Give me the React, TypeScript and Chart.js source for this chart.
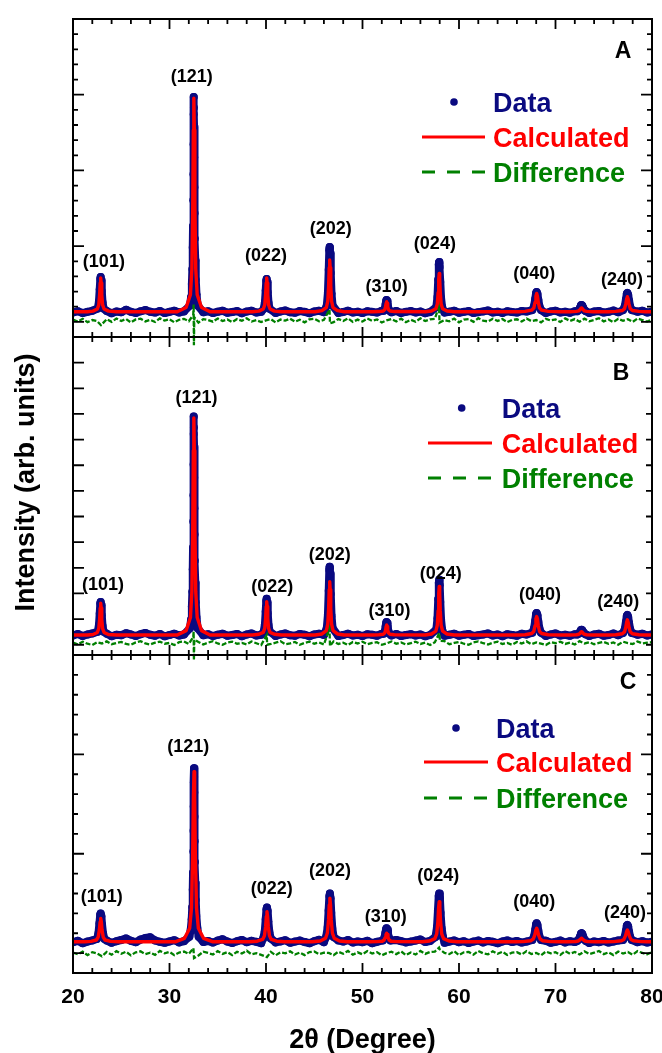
import React, { useEffect, useRef } from "react";
import { Chart, registerables } from "chart.js";

Chart.register(...registerables);

// ---------- x grid (2θ, degrees) ----------
const twoTheta = [
  20, 20.5, 21, 21.5, 22, 22.5, 23, 23.5, 24, 24.5,
  25, 25.5, 26, 26.5, 27, 27.5, 28, 28.5, 29, 29.5,
  30, 30.5, 31, 31.5, 32, 32.5, 33, 33.5, 34, 34.5,
  35, 35.5, 36, 36.5, 37, 37.5, 38, 38.5, 39, 39.5,
  40, 40.5, 41, 41.5, 42, 42.5, 43, 43.5, 44, 44.5,
  45, 45.5, 46, 46.5, 47, 47.5, 48, 48.5, 49, 49.5,
  50, 50.5, 51, 51.5, 52, 52.5, 53, 53.5, 54, 54.5,
  55, 55.5, 56, 56.5, 57, 57.5, 58, 58.5, 59, 59.5,
  60, 60.5, 61, 61.5, 62, 62.5, 63, 63.5, 64, 64.5,
  65, 65.5, 66, 66.5, 67, 67.5, 68, 68.5, 69, 69.5,
  70, 70.5, 71, 71.5, 72, 72.5, 73, 73.5, 74, 74.5,
  75, 75.5, 76, 76.5, 77, 77.5, 78, 78.5, 79, 79.5, 80,
];

// ---------- Panel A ----------
const obsBgA = [
  0.62, 0.70, 0.58, 0.66, 0.73, 0.60, 0.64, 0.71, 0.57, 0.68,
  0.63, 0.80, 0.66, 0.59, 0.70, 0.78, 0.67, 0.61, 0.72, 0.58,
  0.66, 0.74, 0.62, 0.69, 0.72, 0.65, 0.75, 0.63, 0.70, 0.58,
  0.67, 0.73, 0.60, 0.65, 0.71, 0.57, 0.68, 0.74, 0.61, 0.66,
  0.70, 0.62, 0.58, 0.69, 0.75, 0.63, 0.60, 0.71, 0.66, 0.57,
  0.68, 0.73, 0.64, 0.70, 0.72, 0.59, 0.65, 0.74, 0.62, 0.67,
  0.58, 0.70, 0.66, 0.61, 0.73, 0.68, 0.63, 0.72, 0.59, 0.66,
  0.71, 0.62, 0.68, 0.57, 0.65, 0.74, 0.70, 0.61, 0.67, 0.73,
  0.60, 0.66, 0.71, 0.58, 0.64, 0.69, 0.75, 0.62, 0.67, 0.59,
  0.70, 0.65, 0.61, 0.72, 0.68, 0.63, 0.71, 0.66, 0.58, 0.69,
  0.74, 0.62, 0.67, 0.60, 0.70, 0.73, 0.64, 0.59, 0.68, 0.72,
  0.61, 0.66, 0.75, 0.63, 0.69, 0.71, 0.58, 0.67, 0.73, 0.62, 0.68,
];
const obsPeaksA = [
  [22.57, 0.88], [22.69, 1.34], [22.77, 2.15], [22.83, 2.84], [22.87, 2.96], [22.92, 2.73], [22.98, 2.04], [23.06, 1.30], [23.17, 0.88],
  [32.12, 1.08], [32.24, 1.64], [32.32, 2.50], [32.37, 3.49], [32.41, 4.91], [32.44, 6.33], [32.46, 8.03], [32.48, 9.74], [32.495, 11.73], [32.51, 13.71], [32.52, 14.85],
  [32.532, 14.14], [32.545, 12.86], [32.56, 10.87], [32.58, 8.89], [32.60, 7.18], [32.63, 5.48], [32.67, 4.06], [32.72, 2.78], [32.80, 1.79], [32.92, 1.08],
  [39.77, 0.87], [39.89, 1.30], [39.97, 2.07], [40.03, 2.72], [40.07, 2.83], [40.12, 2.61], [40.18, 1.96], [40.26, 1.26], [40.37, 0.87],
  [46.30, 1.08], [46.42, 1.94], [46.50, 3.44], [46.56, 4.73], [46.58, 4.85], [46.60, 4.94], [46.62, 4.90], [46.65, 4.51], [46.71, 3.22], [46.79, 1.85], [46.90, 1.08],
  [52.20, 0.73], [52.32, 0.89], [52.40, 1.16], [52.46, 1.40], [52.50, 1.44], [52.55, 1.36], [52.61, 1.12], [52.69, 0.87], [52.80, 0.73],
  [57.65, 0.98], [57.77, 1.64], [57.85, 2.80], [57.91, 3.79], [57.93, 3.90], [57.95, 3.95], [57.97, 3.85], [58.00, 3.62], [58.06, 2.63], [58.14, 1.57], [58.25, 0.98],
  [67.60, 0.78], [67.78, 1.05], [67.90, 1.51], [67.99, 1.90], [68.05, 1.97], [68.13, 1.84], [68.22, 1.44], [68.34, 1.02], [68.50, 0.78],
  [72.25, 0.70], [72.43, 0.79], [72.55, 0.95], [72.64, 1.09], [72.70, 1.11], [72.78, 1.06], [72.87, 0.93], [72.99, 0.78], [73.15, 0.70],
  [77.00, 0.78], [77.18, 1.03], [77.30, 1.47], [77.39, 1.85], [77.45, 1.91], [77.53, 1.78], [77.62, 1.41], [77.74, 1.00], [77.90, 0.78],
];
const calcA = [
  [20, 0.67], [21.5, 0.67],
  [22.07, 0.71], [22.52, 0.85], [22.67, 1.12], [22.76, 1.79], [22.82, 2.57], [22.87, 2.90], [22.92, 2.57], [22.98, 1.79], [23.07, 1.12], [23.22, 0.85], [23.67, 0.71],
  [24.5, 0.67], [30.8, 0.67],
  [31.72, 0.95], [32.17, 1.80], [32.32, 3.49], [32.41, 7.72], [32.47, 12.66], [32.52, 14.77], [32.57, 12.66], [32.63, 7.72], [32.72, 3.49], [32.87, 1.80], [33.32, 0.95],
  [34.2, 0.67], [38.6, 0.67],
  [39.27, 0.71], [39.72, 0.85], [39.87, 1.12], [39.96, 1.79], [40.02, 2.57], [40.07, 2.90], [40.12, 2.57], [40.18, 1.79], [40.27, 1.12], [40.42, 0.85], [40.87, 0.71],
  [41.6, 0.67], [45.1, 0.67],
  [45.80, 0.74], [46.25, 0.94], [46.40, 1.35], [46.49, 2.38], [46.55, 3.57], [46.60, 4.08], [46.65, 3.57], [46.71, 2.38], [46.80, 1.35], [46.95, 0.94], [47.40, 0.74],
  [48.1, 0.67], [51.1, 0.67],
  [51.70, 0.68], [52.15, 0.72], [52.30, 0.80], [52.39, 1.00], [52.45, 1.23], [52.50, 1.33], [52.55, 1.23], [52.61, 1.00], [52.70, 0.80], [52.85, 0.72], [53.30, 0.68],
  [56.5, 0.67],
  [57.15, 0.72], [57.60, 0.87], [57.75, 1.18], [57.84, 1.94], [57.90, 2.82], [57.95, 3.20], [58.00, 2.82], [58.06, 1.94], [58.15, 1.18], [58.30, 0.87], [58.75, 0.72],
  [59.5, 0.67], [66.2, 0.67],
  [66.85, 0.69], [67.53, 0.77], [67.75, 0.91], [67.88, 1.28], [67.97, 1.70], [68.05, 1.88], [68.13, 1.70], [68.22, 1.28], [68.35, 0.91], [68.57, 0.77], [69.25, 0.69],
  [70.5, 0.67],
  [71.50, 0.67], [72.18, 0.69], [72.40, 0.72], [72.53, 0.80], [72.62, 0.88], [72.70, 0.92], [72.78, 0.88], [72.87, 0.80], [73.00, 0.72], [73.22, 0.69], [73.90, 0.67],
  [75.5, 0.67],
  [76.25, 0.69], [76.93, 0.75], [77.15, 0.87], [77.28, 1.17], [77.37, 1.51], [77.45, 1.66], [77.53, 1.51], [77.62, 1.17], [77.75, 0.87], [77.97, 0.75], [78.65, 0.69],
  [79.3, 0.67], [80, 0.67],
];
const diffA = [
  0.15, 0.02, 0.20, -0.02, 0.12, 0.05, -0.15, 0.18, 0.00, 0.22,
  0.06, 0.19, -0.04, 0.16, 0.21, 0.03, 0.13, -0.01, 0.23, 0.08,
  0.17, -0.03, 0.14, 0.20, 0.04, 0.10, -0.05, 0.18, 0.12, 0.01,
  0.22, 0.05, 0.16, -0.02, 0.19, 0.07, 0.24, 0.02, 0.11, -0.01,
  0.10, 0.18, -0.04, 0.15, 0.08, 0.21, 0.01, 0.14, -0.03, 0.17,
  0.20, 0.04, 0.13, 0.12, -0.02, 0.19, 0.06, 0.23, 0.00, 0.15,
  0.02, 0.22, 0.07, 0.16, -0.04, 0.10, 0.19, 0.03, 0.21, -0.02,
  0.14, 0.01, 0.23, 0.05, 0.17, 0.20, -0.01, 0.12, 0.04, 0.22,
  -0.03, 0.15, 0.18, 0.00, 0.24, 0.08, 0.03, 0.21, 0.06, 0.19,
  -0.02, 0.13, 0.17, 0.02, 0.22, 0.05, 0.12, -0.03, 0.20, 0.09,
  0.16, -0.01, 0.23, 0.06, 0.18, 0.01, 0.21, 0.04, 0.13, 0.24,
  0.03, 0.15, -0.02, 0.20, 0.07, 0.18, 0.00, 0.22, 0.12, 0.02, 0.16,
];
const diffSpikesA = [
  [22.9, -0.22], [32.46, 0.45], [32.5, 1.15], [32.53, -1.55], [32.57, 0.3],
  [46.58, 0.8], [46.63, -0.1], [57.93, 1.05], [57.98, -0.05],
];

// ---------- Panel B ----------
const obsBgB = [
  -0.64, -0.58, -0.66, -0.60, -0.56, -0.65, -0.62, -0.57, -0.67, -0.61,
  -0.63, -0.55, -0.60, -0.66, -0.59, -0.54, -0.61, -0.65, -0.58, -0.67,
  -0.62, -0.57, -0.64, -0.60, -0.56, -0.62, -0.55, -0.63, -0.59, -0.66,
  -0.61, -0.57, -0.65, -0.62, -0.58, -0.67, -0.60, -0.56, -0.64, -0.61,
  -0.58, -0.63, -0.66, -0.60, -0.56, -0.63, -0.65, -0.58, -0.61, -0.67,
  -0.60, -0.57, -0.62, -0.59, -0.56, -0.66, -0.62, -0.57, -0.64, -0.61,
  -0.66, -0.59, -0.61, -0.65, -0.57, -0.60, -0.64, -0.58, -0.66, -0.62,
  -0.59, -0.64, -0.60, -0.67, -0.62, -0.56, -0.59, -0.65, -0.61, -0.57,
  -0.65, -0.61, -0.58, -0.66, -0.63, -0.60, -0.56, -0.64, -0.60, -0.67,
  -0.59, -0.62, -0.65, -0.57, -0.60, -0.63, -0.58, -0.61, -0.66, -0.60,
  -0.56, -0.64, -0.61, -0.65, -0.59, -0.57, -0.62, -0.66, -0.60, -0.57,
  -0.65, -0.62, -0.56, -0.63, -0.59, -0.58, -0.66, -0.61, -0.57, -0.64, -0.60,
];
const obsPeaksB = [
  [22.57, -0.49], [22.69, -0.23], [22.77, 0.22], [22.83, 0.61], [22.87, 0.67], [22.92, 0.54], [22.98, 0.15], [23.06, -0.26], [23.17, -0.49],
  [32.12, -0.36], [32.24, -0.02], [32.32, 0.49], [32.37, 1.08], [32.41, 1.94], [32.44, 2.79], [32.46, 3.81], [32.48, 4.83], [32.495, 6.03], [32.51, 7.22], [32.52, 7.90],
  [32.532, 7.47], [32.545, 6.71], [32.56, 5.51], [32.58, 4.32], [32.60, 3.30], [32.63, 2.28], [32.67, 1.42], [32.72, 0.66], [32.80, 0.06], [32.92, -0.36],
  [39.77, -0.48], [39.89, -0.20], [39.97, 0.30], [40.03, 0.72], [40.07, 0.79], [40.12, 0.65], [40.18, 0.23], [40.26, -0.23], [40.37, -0.48],
  [46.30, -0.35], [46.42, 0.18], [46.50, 1.11], [46.56, 1.91], [46.58, 2.00], [46.60, 2.04], [46.62, 1.98], [46.65, 1.77], [46.71, 0.98], [46.79, 0.13], [46.90, -0.35],
  [52.20, -0.57], [52.32, -0.47], [52.40, -0.29], [52.46, -0.14], [52.50, -0.11], [52.55, -0.16], [52.61, -0.31], [52.69, -0.48], [52.80, -0.57],
  [57.65, -0.41], [57.77, 0.03], [57.85, 0.78], [57.91, 1.42], [57.95, 1.53], [58.00, 1.32], [58.06, 0.67], [58.14, -0.02], [58.25, -0.41],
  [67.60, -0.53], [67.78, -0.36], [67.90, -0.06], [67.99, 0.20], [68.05, 0.24], [68.13, 0.15], [68.22, -0.10], [68.34, -0.38], [68.50, -0.53],
  [72.25, -0.60], [72.43, -0.56], [72.55, -0.49], [72.64, -0.43], [72.70, -0.42], [72.78, -0.44], [72.87, -0.50], [72.99, -0.56], [73.15, -0.60],
  [77.00, -0.54], [77.18, -0.39], [77.30, -0.11], [77.39, 0.12], [77.45, 0.16], [77.53, 0.08], [77.62, -0.15], [77.74, -0.40], [77.90, -0.54],
];
const calcB = [
  [20, -0.62], [21.5, -0.62],
  [22.07, -0.60], [22.52, -0.52], [22.67, -0.37], [22.76, 0.00], [22.82, 0.43], [22.87, 0.62], [22.92, 0.43], [22.98, 0.00], [23.07, -0.37], [23.22, -0.52], [23.67, -0.60],
  [24.5, -0.62], [30.8, -0.62],
  [31.72, -0.45], [32.17, 0.06], [32.32, 1.07], [32.41, 3.61], [32.47, 6.57], [32.52, 7.84], [32.57, 6.57], [32.63, 3.61], [32.72, 1.07], [32.87, 0.06], [33.32, -0.45],
  [34.2, -0.62], [38.6, -0.62],
  [39.27, -0.59], [39.72, -0.52], [39.87, -0.36], [39.96, 0.03], [40.02, 0.49], [40.07, 0.68], [40.12, 0.49], [40.18, 0.03], [40.27, -0.36], [40.42, -0.52], [40.87, -0.59],
  [41.6, -0.62], [45.1, -0.62],
  [45.80, -0.58], [46.25, -0.45], [46.40, -0.20], [46.49, 0.42], [46.55, 1.15], [46.60, 1.46], [46.65, 1.15], [46.71, 0.42], [46.80, -0.20], [46.95, -0.45], [47.40, -0.58],
  [48.1, -0.62], [51.1, -0.62],
  [51.70, -0.61], [52.15, -0.59], [52.30, -0.54], [52.39, -0.43], [52.45, -0.29], [52.50, -0.23], [52.55, -0.29], [52.61, -0.43], [52.70, -0.54], [52.85, -0.59], [53.30, -0.61],
  [56.5, -0.62],
  [57.15, -0.58], [57.60, -0.47], [57.75, -0.24], [57.84, 0.33], [57.90, 0.99], [57.95, 1.27], [58.00, 0.99], [58.06, 0.33], [58.15, -0.24], [58.30, -0.47], [58.75, -0.58],
  [59.5, -0.62], [66.2, -0.62],
  [66.85, -0.61], [67.53, -0.56], [67.75, -0.48], [67.88, -0.26], [67.97, 0.01], [68.05, 0.10], [68.13, 0.01], [68.22, -0.26], [68.35, -0.48], [68.57, -0.56], [69.25, -0.61],
  [70.5, -0.62],
  [71.50, -0.62], [72.18, -0.61], [72.40, -0.59], [72.53, -0.56], [72.62, -0.51], [72.70, -0.49], [72.78, -0.51], [72.87, -0.56], [73.00, -0.59], [73.22, -0.61], [73.90, -0.62],
  [75.5, -0.62],
  [76.25, -0.61], [76.93, -0.57], [77.15, -0.50], [77.28, -0.33], [77.37, -0.12], [77.45, -0.03], [77.53, -0.12], [77.62, -0.33], [77.75, -0.50], [77.97, -0.57], [78.65, -0.61],
  [79.3, -0.62], [80, -0.62],
];
const diffB = [
  -0.92, -0.99, -0.88, -0.96, -1.01, -0.90, -0.95, -0.87, -0.98, -0.93,
  -0.89, -0.97, -1.00, -0.91, -0.86, -0.95, -0.99, -0.92, -0.88, -0.96,
  -0.93, -1.01, -0.90, -0.87, -0.97, -0.94, -0.89, -0.99, -0.92, -0.86,
  -0.95, -1.00, -0.91, -0.88, -0.96, -0.93, -0.99, -0.87, -0.94, -1.01,
  -0.90, -0.97, -0.92, -0.86, -0.98, -0.95, -0.89, -1.00, -0.93, -0.88,
  -0.96, -0.91, -0.99, -0.94, -0.87, -0.97, -0.92, -1.01, -0.89, -0.95,
  -0.88, -0.98, -0.93, -0.90, -1.00, -0.95, -0.87, -0.96, -0.91, -0.99,
  -0.94, -0.88, -0.97, -0.92, -1.01, -0.90, -0.95, -0.86, -0.98, -0.93,
  -0.89, -0.96, -1.00, -0.91, -0.87, -0.94, -0.99, -0.92, -0.88, -0.97,
  -0.93, -1.00, -0.89, -0.95, -0.87, -0.98, -0.91, -0.96, -1.01, -0.90,
  -0.94, -0.88, -0.97, -0.92, -0.99, -0.86, -0.95, -0.90, -0.98, -0.93,
  -0.89, -0.96, -0.91, -1.00, -0.88, -0.94, -0.97, -0.87, -0.95, -0.92, -0.90,
];
const diffSpikesB = [
  [32.46, -0.7], [32.5, -0.49], [32.53, -1.6], [32.57, -0.8],
  [40.08, -0.62], [40.12, -1.0], [46.58, -0.35], [46.63, -1.05],
  [57.88, -0.6], [57.93, -0.54], [57.98, -0.6], [58.02, -0.85],
];

// ---------- Panel C ----------
const obsBgC = [
  0.55, 0.62, 0.50, 0.58, 0.64, 0.53, 0.57, 0.63, 0.52, 0.60,
  0.66, 0.74, 0.62, 0.55, 0.68, 0.76, 0.80, 0.64, 0.57, 0.52,
  0.59, 0.65, 0.54, 0.60, 0.66, 0.58, 0.68, 0.56, 0.61, 0.53,
  0.63, 0.70, 0.58, 0.51, 0.60, 0.66, 0.55, 0.62, 0.57, 0.50,
  0.61, 0.66, 0.54, 0.59, 0.65, 0.52, 0.58, 0.63, 0.56, 0.50,
  0.60, 0.67, 0.55, 0.62, 0.70, 0.64, 0.58, 0.66, 0.53, 0.59,
  0.55, 0.62, 0.50, 0.57, 0.64, 0.59, 0.53, 0.66, 0.60, 0.54,
  0.58, 0.63, 0.69, 0.56, 0.61, 0.67, 0.62, 0.52, 0.58, 0.64,
  0.55, 0.60, 0.51, 0.58, 0.63, 0.54, 0.61, 0.57, 0.50, 0.59,
  0.64, 0.56, 0.61, 0.53, 0.58, 0.65, 0.60, 0.55, 0.62, 0.52,
  0.57, 0.63, 0.54, 0.60, 0.56, 0.62, 0.58, 0.51, 0.59, 0.55,
  0.61, 0.53, 0.58, 0.64, 0.56, 0.60, 0.62, 0.55, 0.60, 0.53, 0.57,
];
const obsPeaksC = [
  [22.48, 0.71], [22.64, 1.00], [22.74, 1.50], [22.82, 1.93], [22.87, 2.00], [22.94, 1.86], [23.01, 1.43], [23.12, 0.97], [23.26, 0.71],
  [32.06, 0.83], [32.20, 1.18], [32.30, 1.70], [32.36, 2.32], [32.41, 3.19], [32.44, 4.06], [32.47, 5.11], [32.49, 6.16], [32.51, 7.38], [32.53, 8.60], [32.54, 9.30],
  [32.55, 8.86], [32.57, 8.08], [32.59, 6.86], [32.61, 5.63], [32.64, 4.59], [32.67, 3.54], [32.72, 2.67], [32.78, 1.88], [32.88, 1.27], [33.02, 0.83],
  [39.71, 0.74], [39.87, 1.09], [39.97, 1.70], [40.05, 2.21], [40.10, 2.30], [40.17, 2.13], [40.24, 1.61], [40.35, 1.05], [40.49, 0.74],
  [46.23, 0.81], [46.39, 1.30], [46.49, 2.15], [46.57, 2.88], [46.62, 3.00], [46.69, 2.76], [46.76, 2.03], [46.87, 1.25], [47.01, 0.81],
  [52.11, 0.64], [52.27, 0.77], [52.37, 1.01], [52.45, 1.22], [52.50, 1.25], [52.57, 1.18], [52.64, 0.98], [52.75, 0.76], [52.89, 0.64],
  [57.56, 0.81], [57.72, 1.30], [57.82, 2.15], [57.90, 2.88], [57.95, 3.00], [58.02, 2.76], [58.09, 2.03], [58.20, 1.25], [58.34, 0.81],
  [67.60, 0.66], [67.78, 0.85], [67.90, 1.17], [67.99, 1.45], [68.05, 1.50], [68.13, 1.41], [68.22, 1.13], [68.34, 0.83], [68.50, 0.66],
  [72.25, 0.61], [72.43, 0.70], [72.55, 0.85], [72.64, 0.98], [72.70, 1.00], [72.78, 0.96], [72.87, 0.83], [72.99, 0.69], [73.15, 0.61],
  [77.00, 0.66], [77.18, 0.83], [77.30, 1.12], [77.39, 1.38], [77.45, 1.42], [77.53, 1.34], [77.62, 1.08], [77.74, 0.81], [77.90, 0.66],
];
const calcC = [
  [20, 0.57], [21.2, 0.57],
  [21.87, 0.59], [22.42, 0.66], [22.61, 0.81], [22.73, 1.16], [22.81, 1.57], [22.87, 1.75], [22.94, 1.57], [23.01, 1.16], [23.13, 0.81], [23.32, 0.66], [23.87, 0.59],
  [24.7, 0.57], [30.6, 0.57],
  [31.54, 0.74], [32.09, 1.25], [32.28, 2.28], [32.40, 4.85], [32.475, 7.85], [32.54, 9.13], [32.605, 7.85], [32.68, 4.85], [32.80, 2.28], [32.99, 1.25], [33.54, 0.74],
  [34.5, 0.57], [38.3, 0.57],
  [39.10, 0.60], [39.65, 0.69], [39.84, 0.87], [39.96, 1.33], [40.035, 1.85], [40.10, 2.08], [40.165, 1.85], [40.24, 1.33], [40.36, 0.87], [40.55, 0.69], [41.10, 0.60],
  [41.9, 0.57], [44.8, 0.57],
  [45.62, 0.61], [46.17, 0.75], [46.36, 1.01], [46.48, 1.67], [46.555, 2.43], [46.62, 2.76], [46.685, 2.43], [46.76, 1.67], [46.88, 1.01], [47.07, 0.75], [47.62, 0.61],
  [48.4, 0.57], [50.8, 0.57],
  [51.50, 0.58], [52.05, 0.60], [52.24, 0.66], [52.36, 0.79], [52.435, 0.94], [52.50, 1.00], [52.565, 0.94], [52.64, 0.79], [52.76, 0.66], [52.95, 0.60], [53.50, 0.58],
  [56.2, 0.57],
  [56.95, 0.61], [57.50, 0.73], [57.69, 0.97], [57.81, 1.58], [57.885, 2.29], [57.95, 2.59], [58.015, 2.29], [58.09, 1.58], [58.21, 0.97], [58.40, 0.73], [58.95, 0.61],
  [59.8, 0.57], [65.9, 0.57],
  [66.65, 0.58], [67.42, 0.62], [67.69, 0.71], [67.85, 0.91], [67.96, 1.15], [68.05, 1.25], [68.14, 1.15], [68.25, 0.91], [68.41, 0.71], [68.68, 0.62], [69.45, 0.58],
  [70.6, 0.57],
  [71.30, 0.57], [72.07, 0.58], [72.34, 0.61], [72.50, 0.66], [72.61, 0.72], [72.70, 0.75], [72.79, 0.72], [72.90, 0.66], [73.06, 0.61], [73.33, 0.58], [74.10, 0.57],
  [75.3, 0.57],
  [76.05, 0.58], [76.82, 0.62], [77.09, 0.69], [77.25, 0.87], [77.36, 1.07], [77.45, 1.16], [77.54, 1.07], [77.65, 0.87], [77.81, 0.69], [78.08, 0.62], [78.85, 0.58],
  [79.5, 0.57], [80, 0.57],
];
const diffC = [
  0.03, -0.06, 0.08, -0.10, 0.05, -0.02, -0.16, 0.06, -0.08, 0.10,
  -0.03, 0.07, -0.11, 0.04, 0.09, -0.05, 0.02, -0.09, 0.11, -0.01,
  0.06, -0.10, 0.03, 0.08, -0.04, 0.01, -0.12, 0.07, 0.01, -0.07,
  0.10, -0.04, 0.05, -0.10, 0.07, -0.02, 0.12, -0.06, 0.00, -0.09,
  0.01, 0.06, -0.11, 0.04, -0.01, 0.09, -0.07, 0.03, -0.10, 0.05,
  0.08, -0.05, 0.02, 0.01, -0.10, 0.07, -0.03, 0.11, -0.08, 0.04,
  -0.06, 0.10, -0.02, 0.05, -0.11, 0.00, 0.07, -0.05, 0.09, -0.10,
  0.03, -0.07, 0.11, -0.04, 0.06, 0.08, -0.09, 0.01, -0.05, 0.10,
  -0.10, 0.04, 0.06, -0.08, 0.11, -0.01, -0.06, 0.09, -0.03, 0.07,
  -0.09, 0.02, 0.05, -0.07, 0.10, -0.04, 0.01, -0.11, 0.08, -0.01,
  0.05, -0.09, 0.10, -0.03, 0.06, -0.07, 0.09, -0.05, 0.02, 0.11,
  -0.05, 0.04, -0.10, 0.08, -0.02, 0.06, -0.08, 0.10, 0.01, -0.06, 0.05,
];
const diffSpikesC = [
  [32.48, 0.25], [32.54, -0.25], [40.1, -0.2], [57.93, 0.28], [57.98, 0.2],
];

// ---------- panel y ranges and ticks ----------
const yRangeA = [-1, 20];
const yRangeB = [-1.4, 11];
const yRangeC = [-1, 15];
const yTicksA = [0, 1, 2, 3, 4, 5, 6, 7, 8, 9, 10, 11, 12, 13, 14, 15, 16, 17, 18, 19];
const yMajorA = [0, 5, 10, 15];
const yTicksB = [-1, 0, 1, 2, 3, 4, 5, 6, 7, 8, 9, 10];
const yMajorB = [-1, 0, 1, 2, 3, 4, 5, 6, 7, 8, 9, 10];
const yTicksC = [0, 1, 2, 3, 4, 5, 6, 7, 8, 9, 10, 11, 12, 13, 14];
const yMajorC = [0, 5, 10];
const xTickLabels = [20, 30, 40, 50, 60, 70, 80];
const xMinorTicks = [22, 24, 26, 28, 32, 34, 36, 38, 42, 44, 46, 48, 52, 54, 56, 58, 62, 64, 66, 68, 72, 74, 76, 78];

// ---------- peak labels ----------
const hklLabels = ["(101)", "(121)", "(022)", "(202)", "(310)", "(024)", "(040)", "(240)"];
const labelXA = [23.2, 32.3, 40.0, 46.7, 52.5, 57.5, 67.8, 76.9];
const labelYA = [4.05, 16.24, 4.42, 6.2, 2.37, 5.21, 3.23, 2.83];
const labelXB = [23.1, 32.8, 40.65, 46.6, 52.8, 58.1, 68.4, 76.5];
const labelYB = [1.4, 8.69, 1.3, 2.57, 0.36, 1.83, 0.98, 0.72];
const labelXC = [22.97, 31.95, 40.6, 46.63, 52.4, 57.86, 67.8, 77.2];
const labelYC = [2.92, 10.44, 3.31, 4.18, 1.87, 3.97, 2.62, 2.08];

const legendTexts = ["Data", "Calculated", "Difference"];
const panelLetters = ["A", "B", "C"];
const xTitle = "2θ (Degree)";
const yTitle = "Intensity (arb. units)";

// ---------- styles ----------
const NAVY = "#0a0a80";
const RED = "#ff0000";
const GREEN = "#008000";
const FONT = '"Liberation Sans", Arial, Helvetica, sans-serif';

const panelStyle = [
  { axis: "yA", range: yRangeA, ticks: yTicksA, majors: yMajorA, lMaj: 11, lMin: 5, rMaj: 11, rMin: 5,
    lx: labelXA, ly: labelYA, letterX: 623, letterDy: 31, dotX: 454, lineX0: 422, lineX1: 485, textX: 493, rowDy: [83, 118, 153] },
  { axis: "yB", range: yRangeB, ticks: yTicksB, majors: yMajorB, lMaj: 11, lMin: 11, rMaj: 6, rMin: 6,
    lx: labelXB, ly: labelYB, letterX: 621, letterDy: 35, dotX: 461.7, lineX0: 428, lineX1: 492, textX: 501.7, rowDy: [71, 106, 141] },
  { axis: "yC", range: yRangeC, ticks: yTicksC, majors: yMajorC, lMaj: 11, lMin: 5, rMaj: 11, rMin: 5,
    lx: labelXC, ly: labelYC, letterX: 628, letterDy: 26, dotX: 456, lineX0: 424, lineX1: 488, textX: 496, rowDy: [73, 107, 143] },
];

function toPoints(pairs: number[][]) {
  return pairs.map((p) => ({ x: p[0], y: p[1] }));
}
// observed pattern: background grid + peak points, ordered by angle
function obsPoints(bg: number[], peaks: number[][]) {
  const pts = twoTheta
    .map((x, i) => ({ x, y: bg[i] }))
    .filter((p) => !peaks.some((s) => Math.abs(s[0] - p.x) < 0.15));
  return pts.concat(toPoints(peaks)).sort((a, b) => a.x - b.x);
}
function diffPoints(vals: number[], spikes: number[][]) {
  const pts = twoTheta
    .map((x, i) => ({ x, y: vals[i] }))
    .filter((p) => !spikes.some((s) => Math.abs(s[0] - p.x) < 0.12));
  return pts.concat(toPoints(spikes)).sort((a, b) => a.x - b.x);
}

function capBaseline(centerY: number, size: number) {
  return centerY + 0.358 * size;
}

const decorPlugin = {
  id: "decor",
  afterDatasetsDraw(chart: any) {
    const ctx = chart.ctx as CanvasRenderingContext2D;
    const xs = chart.scales.x;
    const area = chart.chartArea;
    ctx.save();
    panelStyle.forEach((p, pi) => {
      const ys = chart.scales[p.axis];
      const top = ys.getPixelForValue(p.range[1]);
      const bot = ys.getPixelForValue(p.range[0]);
      ctx.strokeStyle = "#000";
      ctx.lineWidth = 2;
      ctx.setLineDash([]);
      ctx.strokeRect(area.left, top, area.right - area.left, bot - top);
      ctx.lineWidth = 1.8;
      const drawX = (v: number, len: number) => {
        const px = xs.getPixelForValue(v);
        ctx.beginPath();
        ctx.moveTo(px, top);
        ctx.lineTo(px, top + len);
        ctx.moveTo(px, bot);
        ctx.lineTo(px, bot - len);
        ctx.stroke();
      };
      xTickLabels.forEach((v) => drawX(v, 10));
      xMinorTicks.forEach((v) => drawX(v, 5));
      p.ticks.forEach((v) => {
        const py = ys.getPixelForValue(v);
        const major = p.majors.includes(v);
        const l = major ? p.lMaj : p.lMin;
        const r = major ? p.rMaj : p.rMin;
        ctx.beginPath();
        ctx.moveTo(area.left, py);
        ctx.lineTo(area.left + l, py);
        ctx.moveTo(area.right, py);
        ctx.lineTo(area.right - r, py);
        ctx.stroke();
      });
      ctx.fillStyle = "#000";
      ctx.font = `bold 18px ${FONT}`;
      ctx.textAlign = "center";
      ctx.textBaseline = "alphabetic";
      hklLabels.forEach((t, i) => {
        const px = xs.getPixelForValue(p.lx[i]);
        const py = ys.getPixelForValue(p.ly[i]);
        ctx.fillText(t, px, capBaseline(py, 18));
      });
      ctx.font = `bold 23px ${FONT}`;
      ctx.fillText(panelLetters[pi], p.letterX, capBaseline(top + p.letterDy, 23));
      const r0 = top + p.rowDy[0];
      const r1 = top + p.rowDy[1];
      const r2 = top + p.rowDy[2];
      ctx.fillStyle = NAVY;
      ctx.beginPath();
      ctx.arc(p.dotX, r0, 3.8, 0, Math.PI * 2);
      ctx.fill();
      ctx.strokeStyle = RED;
      ctx.lineWidth = 2.8;
      ctx.beginPath();
      ctx.moveTo(p.lineX0, r1);
      ctx.lineTo(p.lineX1, r1);
      ctx.stroke();
      ctx.strokeStyle = GREEN;
      ctx.lineWidth = 2.8;
      ctx.setLineDash([13, 12]);
      ctx.beginPath();
      ctx.moveTo(p.lineX0, r2);
      ctx.lineTo(p.lineX1, r2);
      ctx.stroke();
      ctx.setLineDash([]);
      ctx.font = `bold 27px ${FONT}`;
      ctx.textAlign = "left";
      ctx.fillStyle = NAVY;
      ctx.fillText(legendTexts[0], p.textX, capBaseline(r0, 27));
      ctx.fillStyle = RED;
      ctx.fillText(legendTexts[1], p.textX, capBaseline(r1, 27));
      ctx.fillStyle = GREEN;
      ctx.fillText(legendTexts[2], p.textX, capBaseline(r2, 27));
    });
    ctx.fillStyle = "#000";
    ctx.font = `bold 21px ${FONT}`;
    ctx.textAlign = "center";
    ctx.textBaseline = "alphabetic";
    xTickLabels.forEach((v) => {
      ctx.fillText(String(v), xs.getPixelForValue(v), capBaseline(area.bottom + 22, 21));
    });
    ctx.font = `bold 27px ${FONT}`;
    ctx.fillText(xTitle, (area.left + area.right) / 2, 1048);
    ctx.save();
    ctx.translate(33.5, 482.5);
    ctx.rotate(-Math.PI / 2);
    ctx.fillText(yTitle, 0, 0);
    ctx.restore();
    ctx.restore();
  },
};

function axisRange(range: number[], slot: number) {
  const span = range[1] - range[0];
  return { min: range[0] - (2 - slot) * span, max: range[1] + slot * span };
}

export default function App() {
  const ref = useRef<HTMLCanvasElement | null>(null);
  useEffect(() => {
    if (!ref.current) return;
    const mk = (axis: string, obs: any[], calc: any[], diff: any[]) => [
      { label: "Calculated", data: calc, yAxisID: axis, showLine: true, borderColor: RED, borderWidth: 3.4,
        pointRadius: 0, order: 0, tension: 0, borderJoinStyle: "round" as const },
      { label: "Difference", data: diff, yAxisID: axis, showLine: true, borderColor: GREEN, borderWidth: 2.3,
        borderDash: [5, 2], pointRadius: 0, order: 1, tension: 0 },
      { label: "Data", data: obs, yAxisID: axis, showLine: true, borderColor: NAVY, borderWidth: 8,
        borderJoinStyle: "round" as const, borderCapStyle: "round" as const, tension: 0,
        pointRadius: 4, pointBorderWidth: 0, pointBackgroundColor: NAVY, pointBorderColor: NAVY, order: 2 },
    ];
    const rA = axisRange(yRangeA, 0);
    const rB = axisRange(yRangeB, 1);
    const rC = axisRange(yRangeC, 2);
    const chart = new Chart(ref.current, {
      type: "scatter",
      data: {
        datasets: [
          ...mk("yA", obsPoints(obsBgA, obsPeaksA), toPoints(calcA), diffPoints(diffA, diffSpikesA)),
          ...mk("yB", obsPoints(obsBgB, obsPeaksB), toPoints(calcB), diffPoints(diffB, diffSpikesB)),
          ...mk("yC", obsPoints(obsBgC, obsPeaksC), toPoints(calcC), diffPoints(diffC, diffSpikesC)),
        ],
      },
      options: {
        responsive: false,
        maintainAspectRatio: false,
        animation: false,
        devicePixelRatio: 1,
        events: [],
        layout: { padding: { left: 73, top: 19, right: 10, bottom: 80 } },
        plugins: { legend: { display: false }, tooltip: { enabled: false }, title: { display: false } },
        scales: {
          x: { type: "linear", min: 20, max: 80, display: false },
          yA: { type: "linear", axis: "y", min: rA.min, max: rA.max, display: false },
          yB: { type: "linear", axis: "y", min: rB.min, max: rB.max, display: false },
          yC: { type: "linear", axis: "y", min: rC.min, max: rC.max, display: false },
        },
      },
      plugins: [decorPlugin],
    } as any);
    return () => chart.destroy();
  }, []);
  return (
    <div style={{ position: "absolute", left: 0, top: 0, width: 662, height: 1053, background: "#fff" }}>
      <canvas ref={ref} width={662} height={1053} style={{ display: "block" }} />
    </div>
  );
}
